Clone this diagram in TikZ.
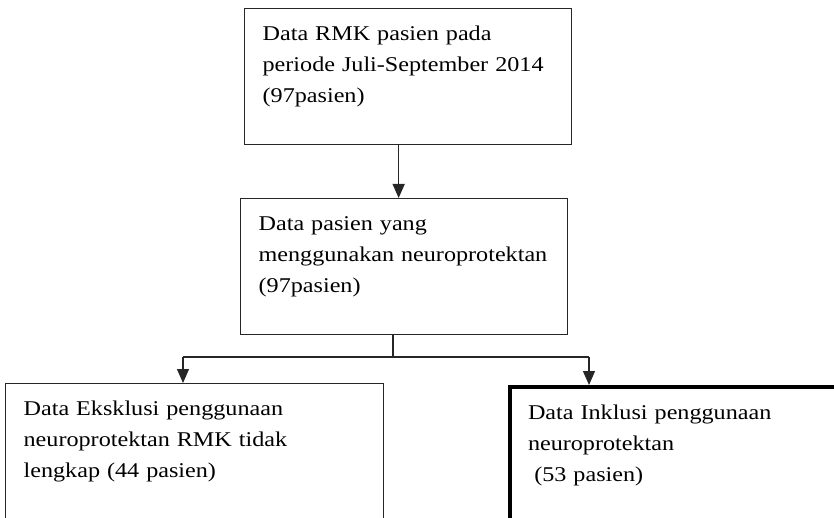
\documentclass[tikz,border=0pt]{standalone}
\usepackage{fontspec}
\setmainfont[FakeStretch=1.15]{Liberation Serif}
\usetikzlibrary{arrows.meta}

\begin{document}
\begin{tikzpicture}[x=1pt,y=-1pt,
        box/.style={draw=black!85,line width=1.3pt,anchor=north west,align=left,
            inner xsep=18pt,inner ysep=17pt,text height=15pt,
            font=\fontsize{21}{31}\selectfont},
        thickbox/.style={box,draw=black,line width=4pt},
        arr/.style={draw=black!85,line width=1.3pt,-{Triangle[width=12pt,length=14pt]}},
        ln/.style={draw=black!85,line width=1.3pt}
        ]
        \useasboundingbox (0,0) rectangle (834,518);
        \clip (0,0) rectangle (834,518);
        \node (rmk) [box,text width=291pt,text depth=87pt] at (244,8)
            {Data RMK pasien pada\\ periode Juli-September 2014\\ (97pasien)};
        \node (pakai) [box,text width=291pt,text depth=87pt] at (240,198)
            {Data pasien yang\\ menggunakan neuroprotektan\\ (97pasien)};
        \node (eks) [box,text width=342pt,text depth=140pt] at (5,383)
            {Data Eksklusi penggunaan\\ neuroprotektan RMK tidak\\ lengkap (44 pasien)};
        \node (inkl) [thickbox,text width=304pt,text depth=140pt] at (508,385)
            {Data Inklusi penggunaan\\ neuroprotektan\\ \hspace*{0.3em}(53 pasien)};
        \coordinate (split) at (393,357);
        \coordinate (splitL) at (183,357);
        \coordinate (splitR) at (589,357);
        \draw[arr] ([xshift=-9.5pt]rmk.south) -- ([xshift=-9.5pt]rmk.south |- pakai.north);
        \draw[ln] (pakai.south -| split) -- (split);
        \draw[ln] (splitL) -- (splitR);
        \draw[arr] (splitL) -- (splitL |- eks.north);
        \draw[arr] (splitR) -- (splitR |- inkl.north);
\end{tikzpicture}
\end{document}
